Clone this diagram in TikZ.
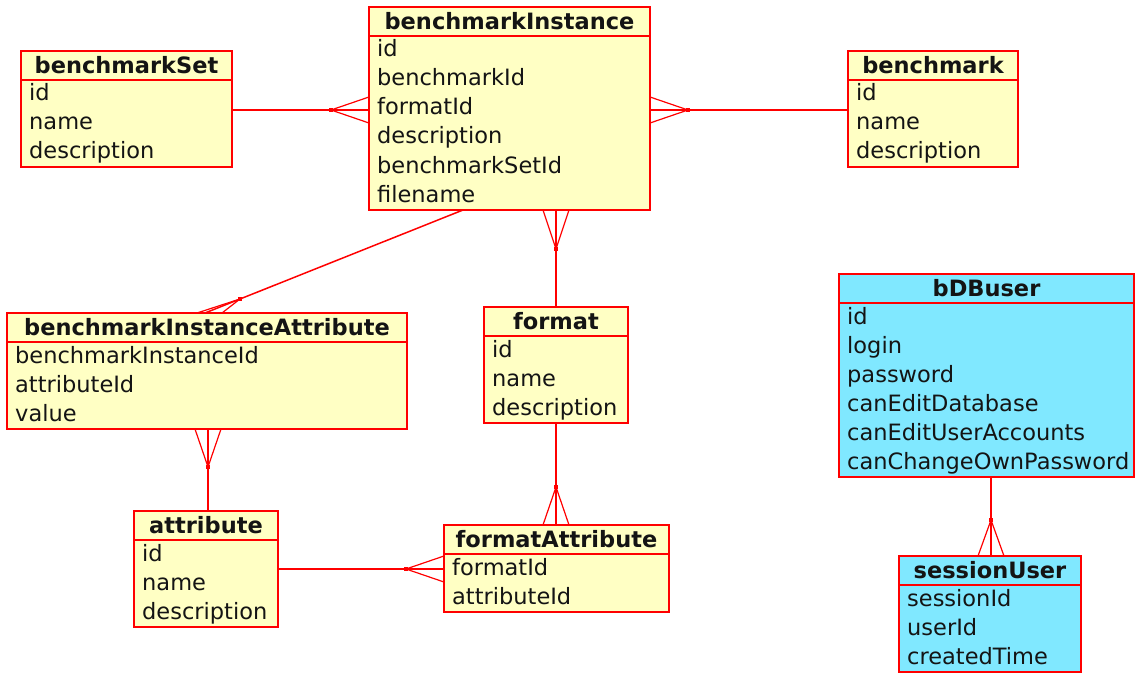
\documentclass[tikz,border=0pt]{standalone}
\usepackage{fontspec}
\setmainfont{DejaVu Sans}
\usetikzlibrary{calc}
\definecolor{entyellow}{RGB}{255,255,196}
\definecolor{entcyan}{RGB}{128,232,255}
\definecolor{entred}{RGB}{255,0,0}
\definecolor{txt}{RGB}{20,20,20}
\tikzset{
 entbox/.style={draw=entred, line width=1.5pt, rectangle, inner sep=0pt, outer sep=0pt, anchor=north west},
 enttitle/.style={font=\fontsize{22.5}{27}\selectfont\bfseries, text=txt, inner sep=0pt},
 entrow/.style={font=\fontsize{22.5}{27}\selectfont, text=txt, inner sep=0pt, anchor=base west},
 rel/.style={draw=entred, line width=1.5pt},
 prong/.style={draw=entred, line width=1.2pt},
}
\newcommand{\entity}[8]{%
 \node[entbox, fill=#6, minimum width=#4pt, minimum height={29pt+29pt*#5}] (#1) at (#2,#3) {};
 \draw[rel] ($(#1.north west)+(0,29)$) -- ($(#1.north east)+(0,29)$);
 \node[enttitle] (#1-t) at ($(#1.north)+(0,14.5)$) {#7};
 \foreach \rowtext [count=\i] in {#8} {
   \node[entrow] (#1-r\i) at ($(#1.north west)+(8,29*\i+21)$) {\rowtext};
 }
}
\newcommand{\dotat}[1]{\fill[entred] ($(#1)+(-2.2,-2.2)$) rectangle ($(#1)+(2.2,2.2)$);}
\begin{document}
\begin{tikzpicture}[x=1pt,y=-1pt]
\useasboundingbox (0,0) rectangle (1135,674);
\entity{bS}{21}{51}{211}{3}{entyellow}{benchmarkSet}{id,name,description}
\entity{bI}{369}{7}{281}{6}{entyellow}{benchmarkInstance}{id,benchmarkId,formatId,description,benchmarkSetId,filename}
\entity{bm}{848}{51}{170}{3}{entyellow}{benchmark}{id,name,description}
\entity{bIA}{7}{313}{400}{3}{entyellow}{benchmarkInstanceAttribute}{benchmarkInstanceId,attributeId,value}
\entity{fmt}{484}{307}{144}{3}{entyellow}{format}{id,name,description}
\entity{att}{134}{511}{144}{3}{entyellow}{attribute}{id,name,description}
\entity{fA}{444}{525}{225}{2}{entyellow}{formatAttribute}{formatId,attributeId}
\entity{bU}{839}{274}{295}{6}{entcyan}{bDBuser}{id,login,password,canEditDatabase,canEditUserAccounts,canChangeOwnPassword}
\entity{sU}{899}{556}{182}{3}{entcyan}{sessionUser}{sessionId,userId,createdTime}
% benchmarkSet - benchmarkInstance
\coordinate (d1) at (331,110);
\draw[rel] (bS.east |- d1) -- (bI.west |- d1);
\draw[prong] ($(bI.west |- d1)+(0,-13)$) -- (d1) -- ($(bI.west |- d1)+(0,13)$);
\dotat{d1}
% benchmarkInstance - benchmark
\coordinate (d2) at (688,110);
\draw[rel] (bI.east |- d2) -- (bm.west |- d2);
\draw[prong] ($(bI.east |- d2)+(0,-13)$) -- (d2) -- ($(bI.east |- d2)+(0,13)$);
\dotat{d2}
% benchmarkInstance - format
\coordinate (d3) at (556,249);
\draw[rel] (bI.south -| d3) -- (fmt.north -| d3);
\draw[prong] ($(bI.south -| d3)+(-13,0)$) -- (d3) -- ($(bI.south -| d3)+(13,0)$);
\dotat{d3}
% benchmarkInstance - benchmarkInstanceAttribute
\coordinate (d4) at (240,299);
\draw[rel] ($(bI.south west)+(94,0)$) -- ($(bIA.north west)+(198,0)$);
\draw[prong] ($(bIA.north west)+(190,0)$) -- (d4) -- ($(bIA.north west)+(215,0)$);
\dotat{d4}
% benchmarkInstanceAttribute - attribute
\coordinate (d5) at (208,467);
\draw[rel] (bIA.south -| d5) -- (att.north -| d5);
\draw[prong] ($(bIA.south -| d5)+(-13,0)$) -- (d5) -- ($(bIA.south -| d5)+(13,0)$);
\dotat{d5}
% attribute - formatAttribute
\coordinate (d6) at (406,569);
\draw[rel] (att.east |- d6) -- (fA.west |- d6);
\draw[prong] ($(fA.west |- d6)+(0,-13)$) -- (d6) -- ($(fA.west |- d6)+(0,13)$);
\dotat{d6}
% format - formatAttribute
\coordinate (d7) at (556,487);
\draw[rel] (fmt.south -| d7) -- (fA.north -| d7);
\draw[prong] ($(fA.north -| d7)+(-13,0)$) -- (d7) -- ($(fA.north -| d7)+(13,0)$);
\dotat{d7}
% bDBuser - sessionUser
\coordinate (d8) at (991,520);
\draw[rel] (bU.south -| d8) -- (sU.north -| d8);
\draw[prong] ($(sU.north -| d8)+(-13,0)$) -- (d8) -- ($(sU.north -| d8)+(13,0)$);
\dotat{d8}
\end{tikzpicture}
\end{document}
